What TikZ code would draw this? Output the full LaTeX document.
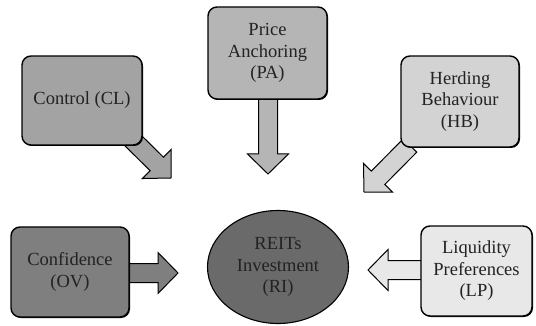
\documentclass[tikz,border=0pt]{standalone}
\usepackage{fontspec}
\setmainfont{Liberation Serif}
\usetikzlibrary{calc,shapes.geometric,shadows}
\pgfdeclarelayer{bg}
\pgfsetlayers{bg,main}
\definecolor{cCL}{HTML}{A3A3A3}
\definecolor{cPA}{HTML}{B5B5B5}
\definecolor{cHB}{HTML}{D3D3D3}
\definecolor{cOV}{HTML}{7F7F7F}
\definecolor{cLP}{HTML}{E8E8E8}
\definecolor{cRI}{HTML}{6A6A6A}
\definecolor{txt}{HTML}{222222}
\tikzset{
  box/.style={draw=black, line width=1.4pt, rounded corners=9pt, align=center,
    font=\fontsize{18.5}{21.5}\selectfont, inner sep=0pt, text=txt,
    drop shadow={shadow xshift=1pt, shadow yshift=-1pt, fill=black, opacity=1}},
  barrow/.style={draw=black, line width=1pt, line join=miter}
}
\newcommand\blockarrow[3]{%
  \coordinate (hbase) at ($(#2)!20pt!(#1)$);
  \draw[barrow, fill=#3]
    ($(#1)!9.5pt!90:(#2)$) -- ($(hbase)!9.5pt!90:(#2)$) -- ($(hbase)!20.5pt!90:(#2)$)
    -- (#2) -- ($(hbase)!20.5pt!-90:(#2)$) -- ($(hbase)!9.5pt!-90:(#2)$)
    -- ($(#1)!9.5pt!-90:(#2)$) -- cycle;
}
\begin{document}
\begin{tikzpicture}[x=1pt,y=-1pt]
\useasboundingbox (0,0) rectangle (536,326);
\node[box, fill=cCL, minimum width=120pt, minimum height=89pt] (cl) at (82,100.5) {Control (CL)};
\node[box, fill=cPA, minimum width=119pt, minimum height=92pt] (pa) at (267.5,53) {Price\\Anchoring\\(PA)};
\node[box, fill=cHB, minimum width=118pt, minimum height=91pt] (hb) at (460,101.5) {Herding\\Behaviour\\(HB)};
\node[box, fill=cOV, minimum width=118pt, minimum height=90pt] (ov) at (70,272) {Confidence\\(OV)};
\node[box, fill=cLP, minimum width=111pt, minimum height=90pt] (lp) at (476.5,271) {Liquidity\\Preferences\\(LP)};
\node[ellipse, draw=black, line width=1.1pt, fill=cRI, inner sep=0pt, minimum width=141pt, minimum height=113pt,
  align=center, font=\fontsize{18.5}{21.5}\selectfont, text=txt] (ri) at (278,267) {REITs\\Investment\\(RI)};
\coordinate (clT) at (130,137.5);
\coordinate (clH) at (171,178);
\coordinate (paT) at (268,90);
\coordinate (paH) at (268,174);
\coordinate (hbT) at (410,145.5);
\coordinate (hbH) at (364,192);
\coordinate (ovT) at (120,273);
\coordinate (ovH) at (178,273);
\coordinate (lpT) at (430,270);
\coordinate (lpH) at (368,270);
\begin{pgfonlayer}{bg}
\blockarrow{clT}{clH}{cCL}
\blockarrow{paT}{paH}{cPA}
\blockarrow{hbT}{hbH}{cHB}
\blockarrow{ovT}{ovH}{cOV}
\blockarrow{lpT}{lpH}{cLP}
\end{pgfonlayer}
\end{tikzpicture}
\end{document}
